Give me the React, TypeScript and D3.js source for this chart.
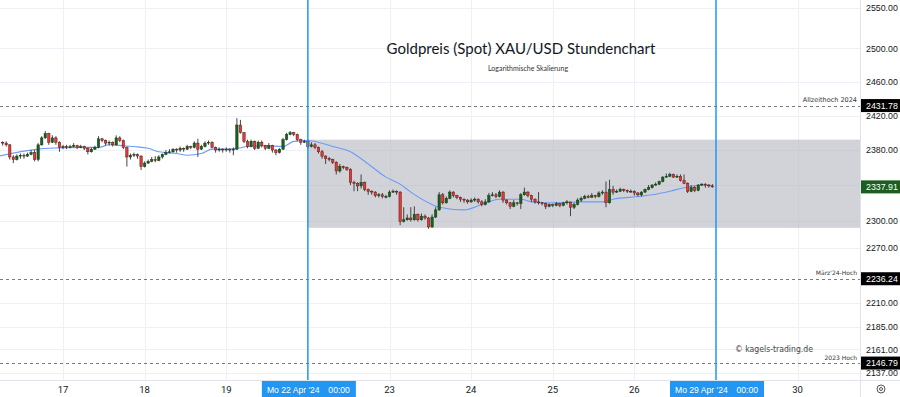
import React from "react";
import * as d3 from "d3";

const W = 900;
const H = 397;
const PLOT_RIGHT = 860;
const PLOT_BOTTOM = 380;

// ---------- data (hourly XAU/USD candles, bar 0 = 17 Apr 00:00) ----------
const firstBar = -17;
const firstOpen = 2389;
const closes = [
  2388, 2386, 2372, 2369, 2373, 2374, 2373, 2375, 2377, 2369,
  2386, 2394, 2399, 2389, 2394, 2389, 2383, 2384, 2383, 2384,
  2385, 2383, 2384, 2382, 2378, 2381, 2383, 2393, 2391, 2388,
  2389, 2386, 2394, 2391, 2383, 2372, 2374, 2375, 2373, 2361,
  2365, 2367, 2369, 2368, 2372, 2375, 2377, 2378, 2381, 2380,
  2382, 2381, 2384, 2383, 2388, 2381, 2384, 2388, 2389, 2383,
  2380, 2381, 2380, 2381, 2380, 2381, 2409, 2400, 2390, 2384,
  2390, 2382, 2389, 2385, 2382, 2385, 2380, 2377, 2381, 2392,
  2398, 2400, 2398, 2392, 2389, 2390, 2384, 2386, 2383, 2378,
  2373, 2370, 2369, 2366, 2356, 2361, 2360, 2358, 2343, 2342,
  2339, 2343, 2335, 2333, 2332, 2328, 2329, 2327, 2327, 2332,
  2333, 2332, 2299, 2301, 2303, 2301, 2307, 2301, 2305, 2303,
  2293, 2304, 2312, 2329, 2320, 2325, 2332, 2328, 2326, 2324,
  2323, 2321, 2323, 2324, 2321, 2318, 2321, 2328, 2329, 2327,
  2332, 2323, 2320, 2316, 2320, 2319, 2329, 2332, 2328, 2324,
  2321, 2320, 2319, 2316, 2318, 2317, 2319, 2317, 2320, 2321,
  2315, 2318, 2323, 2325, 2327, 2326, 2328, 2327, 2331, 2332,
  2320, 2335, 2332, 2333, 2335, 2334, 2333, 2333, 2331, 2329,
  2332, 2335, 2337, 2340, 2341, 2344, 2349, 2350, 2352, 2349,
  2350, 2345, 2342, 2333, 2337, 2334, 2340, 2341, 2340, 2339,
  2337.91,
];
const highs = [
  2390, 2390, 2387, 2374, 2375, 2376, 2376, 2377, 2380, 2380,
  2388, 2396, 2402, 2400, 2397, 2396, 2390, 2386, 2386, 2386,
  2388, 2386, 2386, 2385, 2383, 2383, 2385, 2396, 2394, 2392,
  2391, 2390, 2397, 2396, 2392, 2384, 2376, 2377, 2376, 2374,
  2367, 2369, 2372, 2373, 2374, 2376, 2380, 2381, 2382, 2382,
  2384, 2383, 2386, 2385, 2390, 2393, 2386, 2390, 2391, 2390,
  2384, 2383, 2382, 2383, 2382, 2383, 2417, 2415, 2401, 2392,
  2392, 2391, 2391, 2391, 2386, 2388, 2386, 2381, 2382, 2394,
  2400, 2402, 2401, 2399, 2393, 2392, 2392, 2389, 2388, 2384,
  2380, 2374, 2372, 2370, 2367, 2364, 2362, 2361, 2359, 2345,
  2343, 2352, 2344, 2336, 2334, 2333, 2331, 2331, 2329, 2334,
  2335, 2334, 2333, 2315, 2307, 2315, 2316, 2308, 2308, 2307,
  2304, 2307, 2315, 2332, 2331, 2327, 2334, 2333, 2329, 2327,
  2325, 2324, 2325, 2326, 2325, 2323, 2324, 2331, 2332, 2331,
  2334, 2333, 2324, 2321, 2323, 2321, 2331, 2337, 2333, 2329,
  2325, 2332, 2321, 2320, 2319, 2319, 2321, 2320, 2321, 2323,
  2321, 2320, 2325, 2327, 2329, 2329, 2331, 2329, 2333, 2334,
  2344, 2346, 2339, 2335, 2337, 2336, 2335, 2335, 2334, 2332,
  2333, 2336, 2340, 2341, 2343, 2345, 2350, 2353, 2354, 2353,
  2352, 2352, 2352, 2343, 2340, 2339, 2341, 2342, 2342, 2341,
  2341,
];
const lows = [
  2385, 2384, 2369, 2365, 2368, 2370, 2370, 2372, 2374, 2367,
  2367, 2385, 2393, 2386, 2388, 2386, 2378, 2381, 2381, 2382,
  2383, 2381, 2382, 2380, 2375, 2377, 2380, 2382, 2389, 2385,
  2385, 2384, 2385, 2389, 2381, 2361, 2369, 2372, 2370, 2357,
  2360, 2364, 2366, 2366, 2367, 2370, 2374, 2376, 2377, 2377,
  2378, 2378, 2380, 2381, 2382, 2372, 2380, 2383, 2386, 2382,
  2377, 2378, 2377, 2378, 2377, 2374, 2380, 2399, 2388, 2382,
  2383, 2380, 2381, 2383, 2380, 2381, 2377, 2374, 2376, 2380,
  2391, 2397, 2396, 2390, 2386, 2388, 2382, 2383, 2381, 2376,
  2370, 2364, 2367, 2364, 2352, 2354, 2358, 2356, 2340, 2333,
  2333, 2336, 2333, 2329, 2329, 2326, 2326, 2325, 2325, 2326,
  2331, 2329, 2295, 2298, 2300, 2299, 2300, 2299, 2300, 2301,
  2291, 2292, 2303, 2311, 2318, 2319, 2324, 2326, 2324, 2321,
  2320, 2319, 2320, 2321, 2319, 2316, 2317, 2320, 2327, 2325,
  2326, 2320, 2318, 2313, 2315, 2317, 2313, 2328, 2326, 2321,
  2319, 2318, 2317, 2313, 2315, 2315, 2316, 2315, 2316, 2318,
  2305, 2313, 2317, 2321, 2324, 2325, 2326, 2325, 2326, 2329,
  2315, 2319, 2329, 2331, 2332, 2332, 2331, 2331, 2328, 2327,
  2327, 2331, 2334, 2336, 2339, 2340, 2343, 2348, 2349, 2348,
  2348, 2344, 2341, 2331, 2332, 2332, 2333, 2339, 2337, 2337,
  2337,
];

// moving average (at these bars)
const maBars = [-18, -7, -4, 6, 10, 13, 17, 20, 24, 27, 32, 35, 39, 42, 46, 49, 52, 57, 62, 65, 69, 76, 81, 86, 91, 95, 98, 103, 106, 113, 118, 123, 129, 132, 136, 141, 146, 152, 155, 162, 166, 171, 175, 180, 183];
const maValues = [2373, 2381, 2382, 2383, 2383, 2386, 2385, 2384, 2382, 2378, 2376, 2374, 2376, 2381, 2381, 2382, 2384, 2385, 2384, 2390, 2391, 2384, 2378, 2364, 2349, 2341, 2332, 2320, 2315, 2312, 2318, 2324, 2324, 2321, 2320, 2320, 2321, 2321, 2324, 2327, 2329, 2333, 2337, 2340, 2339];

// price axis
const gridTicks = [2550, 2500, 2460, 2420, 2380, 2340, 2300, 2270, 2210, 2185, 2161, 2137];
const labelTicks = [2550, 2500, 2460, 2420, 2380, 2300, 2270, 2210, 2185, 2161, 2137];

// horizontal levels
const levelValues = [2431.78, 2236.24, 2146.79];
const levelNames = ["Allzeithoch 2024", "März'24-Hoch", "2023 Hoch"];
const lastPrice = 2337.91;

// range box
const rangeTop = 2392;
const rangeBottom = 2292;
const rangeStartBar = 69;

// time axis
const dayTickBars = [0, 23, 46, 92, 115, 138, 161, 207];
const dayTickLabels = ["17", "18", "19", "23", "24", "25", "26", "30"];
const markerBars = [69, 184];
const markerDates = ["Mo 22 Apr '24", "Mo 29 Apr '24"];
const markerTime = "00:00";

const title = "Goldpreis (Spot) XAU/USD Stundenchart";
const subtitle = "Logarithmische Skalierung";
const watermark = "© kagels-trading.de";

const FONT = "Roboto, 'Noto Sans', sans-serif";
const AXIS_FONT = "'Liberation Sans', Arial, sans-serif";
const GREEN = "#1b5e20";
const RED = "#e53935";
const BLUE = "#2196f3";

export default function App() {
  const x = d3.scaleLinear().domain([0, 184]).range([63, 716]);
  const y = d3.scaleLog().domain([2137, 2550]).range([372.5, 7.5]);

  const candles = closes.map((c, k) => {
    const o = k === 0 ? firstOpen : closes[k - 1];
    const h = Math.max(highs[k], o, c);
    const l = Math.min(lows[k], o, c);
    return { bar: firstBar + k, o, h, l, c };
  });

  const bodyW = 2.4;
  const maLine = d3
    .line<number>()
    .x((_, k) => x(maBars[k]))
    .y((v) => y(v))
    .curve(d3.curveMonotoneX)(maValues) as string;

  const gridColor = "#eef0f5";
  const axisText = (v: number) => v.toFixed(2);

  return (
    <div style={{ position: "fixed", left: 0, top: 0, width: W, height: H, background: "#fff" }}>
      <svg width={W} height={H} style={{ display: "block", fontFamily: FONT }}>
        <defs>
          <clipPath id="plot">
            <rect x={0} y={0} width={PLOT_RIGHT} height={PLOT_BOTTOM} />
          </clipPath>
        </defs>
        <rect x={0} y={0} width={W} height={H} fill="#fff" />

        {/* grid */}
        {gridTicks.map((t) => (
          <line key={"g" + t} x1={0} x2={PLOT_RIGHT} y1={Math.round(y(t)) + 0.5} y2={Math.round(y(t)) + 0.5} stroke={gridColor} />
        ))}
        {dayTickBars.map((b) => (
          <line key={"v" + b} x1={Math.round(x(b)) + 0.5} x2={Math.round(x(b)) + 0.5} y1={0} y2={PLOT_BOTTOM} stroke={gridColor} />
        ))}

        <g clipPath="url(#plot)">
          {/* range box */}
          <rect
            x={x(rangeStartBar)}
            y={y(rangeTop)}
            width={PLOT_RIGHT - x(rangeStartBar)}
            height={y(rangeBottom) - y(rangeTop)}
            fill="#b2b5be"
            fillOpacity={0.6}
          />

          {/* level lines */}
          {levelValues.map((v) => (
            <line key={"l" + v} x1={0} x2={PLOT_RIGHT} y1={Math.round(y(v)) + 0.5} y2={Math.round(y(v)) + 0.5} stroke="#787b86" strokeWidth={1} strokeDasharray="3 3" />
          ))}
          {levelValues.map((v, k) => (
            <text key={"ln" + k} x={857} y={y(v) - 3.5} textAnchor="end" fontSize={k === 0 ? 6.5 : 6} fill="#333" fontFamily="'DejaVu Sans', sans-serif">
              {levelNames[k]}
            </text>
          ))}

          {/* moving average */}
          <path d={maLine} fill="none" stroke="#6c9cf5" strokeWidth={1.1} />

          {/* candles */}
          {candles.map((d) => {
            const cx = x(d.bar);
            const up = d.c >= d.o;
            const top = y(Math.max(d.o, d.c));
            const bot = y(Math.min(d.o, d.c));
            return (
              <g key={d.bar}>
                <line x1={cx} x2={cx} y1={y(d.h)} y2={y(d.l)} stroke="#333" strokeWidth={0.9} />
                <rect
                  x={cx - bodyW / 2}
                  y={top}
                  width={bodyW}
                  height={Math.max(bot - top, 0.8)}
                  fill={up ? GREEN : RED}
                  stroke={up ? "#103d14" : "#5a1a1a"}
                  strokeWidth={0.5}
                />
              </g>
            );
          })}
        </g>

        {/* marker vertical lines */}
        {markerBars.map((b) => (
          <line key={"m" + b} x1={x(b)} x2={x(b)} y1={0} y2={PLOT_BOTTOM} stroke={BLUE} strokeWidth={1.5} />
        ))}

        {/* title */}
        <text x={521} y={54} textAnchor="middle" fontSize={15} fill="#131722" fontFamily="Lato, sans-serif">
          {title}
        </text>
        <text x={528} y={71} textAnchor="middle" fontSize={7} fill="#333" fontFamily="Lato, sans-serif">
          {subtitle}
        </text>

        {/* watermark */}
        <text x={735} y={352} fontSize={9.5} fill="#444" fontFamily="'DejaVu Sans', sans-serif" textLength={78} lengthAdjust="spacingAndGlyphs">
          {watermark}
        </text>

        {/* right axis */}
        <line x1={PLOT_RIGHT + 0.5} x2={PLOT_RIGHT + 0.5} y1={0} y2={H} stroke="#e0e3eb" />
        <g fontFamily={AXIS_FONT} fontSize={8.8}>
          {labelTicks.map((t) => (
            <text key={"t" + t} x={866} y={y(t) + 3.2} fill="#131722">
              {axisText(t)}
            </text>
          ))}
          {levelValues.map((v) => (
            <g key={"lb" + v}>
              <rect x={PLOT_RIGHT + 1} y={y(v) - 6.5} width={W - PLOT_RIGHT - 1} height={13} fill="#000" />
              <text x={866} y={y(v) + 3.2} fill="#fff">
                {axisText(v)}
              </text>
            </g>
          ))}
          <rect x={PLOT_RIGHT + 1} y={y(lastPrice) - 6.5} width={W - PLOT_RIGHT - 1} height={13} fill={GREEN} />
          <text x={866} y={y(lastPrice) + 3.2} fill="#fff">
            {axisText(lastPrice)}
          </text>
        </g>

        {/* bottom axis */}
        <line x1={0} x2={W} y1={PLOT_BOTTOM + 0.5} y2={PLOT_BOTTOM + 0.5} stroke="#e0e3eb" />
        {dayTickBars.map((b, k) => (
          <text key={"d" + b} x={x(b)} y={393} textAnchor="middle" fontSize={9.5} fill="#131722">
            {dayTickLabels[k]}
          </text>
        ))}
        {markerBars.map((b, k) => {
          const bx = x(b) - 46;
          return (
            <g key={"mb" + b} fontFamily={AXIS_FONT} fontSize={8.6}>
              <rect x={bx} y={PLOT_BOTTOM + 1} width={94} height={H - PLOT_BOTTOM - 1} fill={BLUE} />
              <text x={bx + 5} y={392.5} fill="#fff">
                {markerDates[k]}
              </text>
              <text x={bx + 88} y={392.5} textAnchor="end" fill="#fff">
                {markerTime}
              </text>
            </g>
          );
        })}
        {/* settings icon */}
        <circle cx={881} cy={389} r={4} fill="none" stroke="#555" strokeWidth={1} />
        <circle cx={881} cy={389} r={1.5} fill="none" stroke="#555" strokeWidth={1} />
      </svg>
    </div>
  );
}
